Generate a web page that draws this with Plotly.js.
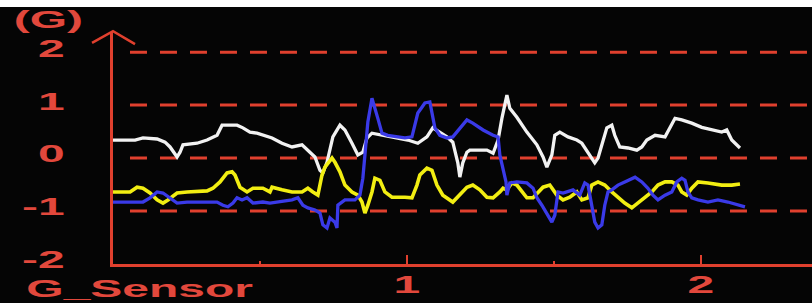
<!DOCTYPE html>
<html>
<head>
<meta charset="utf-8">
<script src="https://cdn.plot.ly/plotly-3.0.1.min.js"></script>
<style>
html,body{margin:0;padding:0;background:#ffffff;overflow:hidden;}
#chart{position:absolute;left:0;top:7px;width:812px;height:296px;}
</style>
</head>
<body>
<div id="chart"></div>
<script>
// ---- data ----
const whiteX = [0.000,0.075,0.102,0.150,0.177,0.194,0.218,0.228,0.238,0.286,
  0.320,0.354,0.371,0.422,0.442,0.466,0.490,0.524,0.541,0.575,
  0.609,0.643,0.663,0.687,0.704,0.714,0.728,0.748,0.772,0.789,
  0.813,0.833,0.850,0.864,0.881,0.915,0.959,1.003,1.037,1.068,
  1.088,1.112,1.136,1.156,1.173,1.180,1.190,1.204,1.214,1.272,
  1.293,1.310,1.323,1.340,1.350,1.374,1.408,1.442,1.463,1.476,
  1.493,1.503,1.520,1.548,1.578,1.595,1.616,1.639,1.650,1.663,
  1.680,1.697,1.707,1.724,1.752,1.782,1.799,1.816,1.844,1.878,
  1.901,1.912,1.935,1.969,2.003,2.037,2.071,2.088,2.105,2.133];
const whiteY = [0.34,0.34,0.38,0.36,0.30,0.21,0.02,0.11,0.25,0.28,
  0.34,0.43,0.62,0.62,0.57,0.49,0.47,0.40,0.38,0.28,
  0.21,0.25,0.15,0.02,-0.23,-0.28,-0.08,0.40,0.62,0.53,
  0.28,0.06,0.11,0.38,0.47,0.43,0.38,0.34,0.28,0.40,
  0.57,0.49,0.40,0.30,-0.09,-0.36,-0.09,0.11,0.15,0.15,
  0.09,0.34,0.75,1.19,0.94,0.77,0.49,0.25,0.02,-0.17,
  0.06,0.43,0.49,0.40,0.34,0.28,0.11,-0.09,0.00,0.25,
  0.57,0.62,0.43,0.21,0.19,0.15,0.21,0.34,0.43,0.40,
  0.62,0.75,0.72,0.66,0.58,0.53,0.49,0.53,0.34,0.19];

const yellowX = [0.000,0.058,0.082,0.102,0.126,0.150,0.170,0.187,0.218,0.252,
  0.320,0.340,0.364,0.388,0.405,0.415,0.432,0.456,0.476,0.510,
  0.534,0.541,0.575,0.609,0.643,0.663,0.680,0.697,0.711,0.721,
  0.745,0.755,0.772,0.789,0.813,0.833,0.847,0.857,0.867,0.881,
  0.891,0.908,0.925,0.949,0.993,1.017,1.034,1.044,1.068,1.085,
  1.102,1.122,1.156,1.180,1.204,1.224,1.248,1.272,1.293,1.316,
  1.327,1.340,1.357,1.374,1.391,1.408,1.429,1.446,1.463,1.486,
  1.510,1.531,1.554,1.578,1.595,1.616,1.629,1.650,1.673,1.697,
  1.718,1.741,1.765,1.786,1.810,1.833,1.854,1.878,1.901,1.922,
  1.935,1.952,1.969,1.990,2.024,2.071,2.105,2.133];
const yellowY = [-0.64,-0.64,-0.55,-0.57,-0.66,-0.79,-0.85,-0.79,-0.66,-0.64,
  -0.62,-0.57,-0.45,-0.28,-0.26,-0.32,-0.55,-0.64,-0.57,-0.57,
  -0.64,-0.55,-0.60,-0.64,-0.64,-0.57,-0.64,-0.70,-0.32,-0.17,
  0.00,-0.08,-0.26,-0.51,-0.64,-0.70,-0.83,-1.04,-0.89,-0.64,
  -0.38,-0.42,-0.64,-0.74,-0.74,-0.75,-0.51,-0.32,-0.19,-0.23,
  -0.51,-0.70,-0.83,-0.70,-0.55,-0.51,-0.60,-0.74,-0.75,-0.64,
  -0.57,-0.60,-0.47,-0.51,-0.64,-0.75,-0.75,-0.64,-0.55,-0.51,
  -0.70,-0.79,-0.74,-0.64,-0.79,-0.75,-0.51,-0.45,-0.51,-0.64,
  -0.75,-0.85,-0.94,-0.85,-0.75,-0.64,-0.51,-0.45,-0.45,-0.51,
  -0.64,-0.70,-0.57,-0.45,-0.47,-0.51,-0.51,-0.49];

const blueX = [0.000,0.102,0.126,0.150,0.170,0.194,0.218,0.252,0.354,0.374,
  0.391,0.408,0.422,0.439,0.456,0.476,0.510,0.534,0.561,0.609,
  0.629,0.646,0.663,0.687,0.704,0.714,0.728,0.738,0.755,0.762,
  0.765,0.789,0.823,0.840,0.850,0.857,0.867,0.881,0.891,0.901,
  0.915,0.935,0.969,0.993,1.017,1.027,1.037,1.051,1.061,1.078,
  1.088,1.095,1.112,1.136,1.156,1.180,1.204,1.224,1.259,1.293,
  1.310,1.316,1.327,1.337,1.340,1.350,1.374,1.408,1.429,1.442,
  1.459,1.476,1.493,1.503,1.510,1.514,1.531,1.565,1.588,1.605,
  1.616,1.629,1.639,1.650,1.663,1.673,1.684,1.697,1.718,1.741,
  1.765,1.776,1.799,1.820,1.837,1.854,1.878,1.901,1.918,1.935,
  1.946,1.956,1.969,1.990,2.024,2.058,2.092,2.126,2.150];
const blueY = [-0.83,-0.83,-0.75,-0.64,-0.66,-0.75,-0.85,-0.83,-0.83,-0.89,
  -0.92,-0.85,-0.75,-0.79,-0.75,-0.85,-0.83,-0.85,-0.83,-0.79,
  -0.75,-0.89,-0.94,-0.98,-1.04,-1.26,-1.32,-1.13,-1.21,-1.32,
  -0.89,-0.79,-0.79,-0.70,-0.38,0.11,0.68,1.13,0.91,0.75,
  0.47,0.43,0.40,0.38,0.40,0.62,0.85,0.96,1.04,1.06,
  0.81,0.57,0.43,0.38,0.40,0.57,0.72,0.66,0.53,0.43,
  0.40,0.06,-0.19,-0.45,-0.70,-0.47,-0.45,-0.47,-0.57,-0.75,
  -0.89,-1.04,-1.21,-1.08,-0.79,-0.64,-0.66,-0.60,-0.70,-0.47,
  -0.51,-0.94,-1.21,-1.32,-1.26,-0.89,-0.64,-0.60,-0.51,-0.45,
  -0.38,-0.36,-0.45,-0.57,-0.70,-0.79,-0.70,-0.64,-0.45,-0.38,
  -0.42,-0.64,-0.75,-0.79,-0.83,-0.79,-0.83,-0.89,-0.92];

const yTickVals = [-2, -1, 0, 1, 2];
const yTickText = ['-2', '-1', '0', '1', '2'];
const xTickVals = [1, 2];
const xTickText = ['1', '2'];
const xMinorTickVals = [0.5, 1.5];
const gridVals = [-1, 0, 1, 2];
const yUnitLabel = '(G)';
const sensorLabel = 'G_Sensor';

// ---- styling ----
const RED = '#e0402e';
const TXT = '#e2483c';
const fontBase = {family: 'Liberation Sans, Arial, sans-serif', size: 24, color: TXT, weight: 'bold'};

const traces = [
  {x: whiteX, y: whiteY, mode: 'lines', line: {color: '#f2f2f2', width: 3.3}, name: 'x', hoverinfo: 'skip'},
  {x: yellowX, y: yellowY, mode: 'lines', line: {color: '#f2ee12', width: 3.6}, name: 'y', hoverinfo: 'skip'},
  {x: blueX, y: blueY, mode: 'lines', line: {color: '#3a3ae8', width: 3.3}, name: 'z', hoverinfo: 'skip'}
];

const shapes = gridVals.map(v => ({
  type: 'line', xref: 'paper', yref: 'y', x0: 0.0243, x1: 1, y0: v, y1: v,
  line: {color: RED, width: 3, dash: '17px,13px'}, layer: 'below'
}));
// arrow head on top of the y axis
shapes.push({
  type: 'path', xref: 'paper', yref: 'paper',
  path: 'M -0.030 0.953 L 0 1.004 L 0.0315 0.948',
  line: {color: RED, width: 2.5}
});

const layout = {
  width: 812, height: 296,
  margin: {l: 113, r: 0, t: 25, b: 39},
  paper_bgcolor: '#050505', plot_bgcolor: '#050505',
  showlegend: false,
  xaxis: {
    range: [0, 2.378], showgrid: false, zeroline: false,
    showline: true, linecolor: RED, linewidth: 2.5,
    tickmode: 'array', tickvals: xTickVals, ticktext: xTickText,
    ticks: 'inside', ticklen: 9, tickwidth: 2.5, tickcolor: RED,
    minor: {tickmode: 'array', tickvals: xMinorTickVals, ticks: 'inside', ticklen: 3, tickwidth: 2.5, tickcolor: RED},
    tickfont: fontBase, ticklabelstandoff: 0
  },
  yaxis: {
    range: [-2, 2.38], showgrid: false, zeroline: false,
    showline: true, linecolor: RED, linewidth: 3.5,
    tickmode: 'array', tickvals: yTickVals, ticktext: yTickText,
    ticks: '', tickfont: fontBase, ticklabelstandoff: 40
  },
  shapes: shapes,
  annotations: [
    {text: yUnitLabel, xref: 'paper', yref: 'paper', x: -0.0916, y: 1.052,
     xanchor: 'center', yanchor: 'middle', showarrow: false, font: fontBase},
    {text: sensorLabel, xref: 'paper', yref: 'paper', x: 0.0386, y: -0.105,
     xanchor: 'center', yanchor: 'middle', showarrow: false, font: fontBase}
  ]
};

function stretch(sel, sx, mode, dy) {
  document.querySelectorAll(sel).forEach(t => {
    const b = t.getBBox();
    const cx = mode === 'end' ? b.x + b.width : (mode === 'start' ? b.x : b.x + b.width / 2);
    const orig = t.getAttribute('transform') || '';
    t.setAttribute('transform', orig + ' translate(' + cx + ',' + (dy || 0) + ') scale(' + sx + ',1) translate(' + (-cx) + ',0)');
  });
}

Plotly.newPlot('chart', traces, layout, {staticPlot: true, displayModeBar: false}).then(() => {
  stretch('#chart .ytick text', 2, 'end', -4);
  stretch('#chart .xtick text', 2, 'center', -2);
  stretch('#chart .annotation-text', 2, 'center', 0);
});
</script>
</body>
</html>
